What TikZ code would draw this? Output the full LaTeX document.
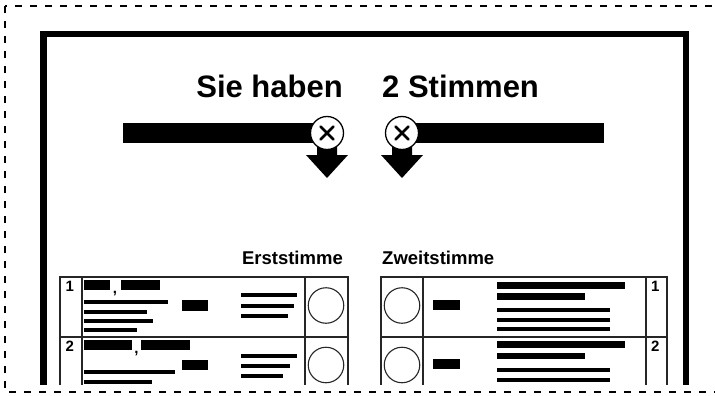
\documentclass[tikz,border=0pt]{standalone}
\usepackage{fontspec}
\setmainfont{Liberation Sans}
\tikzset{
  blk/.style={fill=black},
  tline/.style={draw=black!85, line width=1.2pt},
  xmark/.style={circle, draw=black, fill=white, line width=1.3pt, minimum size=33pt, inner sep=0pt},
  vote/.style={circle, draw=black!85, line width=1.1pt, minimum size=35.5pt, inner sep=0pt},
  title/.style={font=\bfseries\fontsize{31}{31}\selectfont, inner sep=0pt},
  head/.style={font=\bfseries\fontsize{18.5}{18.5}\selectfont, inner sep=0pt},
  num/.style={font=\bfseries\fontsize{15}{15}\selectfont, inner sep=0pt, anchor=north west},
  cross/.style={line width=2.6pt, line cap=round}
}
\begin{document}
\begin{tikzpicture}[x=1pt,y=-1pt]
\useasboundingbox (0,0) rectangle (715,396);
\clip (0,0) rectangle (715,396);
% dashed outer border
\draw[line width=1.5pt, dash pattern=on 7pt off 8pt] (5,6) rectangle (730,392);
\begin{scope}
\clip (0,0) rectangle (715,384);
% thick frame
\draw[line width=6.5pt] (43.5,34) rectangle (686,420);
% titles
\node[title, anchor=base east] (t1) at (343,97) {Sie haben};
\node[title, anchor=base west] (t2) at (382,97) {2 Stimmen};
% bars
\fill[blk] (123,123) rectangle (327,143);
\fill[blk] (402,123) rectangle (604,143);
% arrows
\fill[blk] (317,133) -- (337,133) -- (337,155) -- (348,155) -- (327,178) -- (306,155) -- (317,155) -- cycle;
\fill[blk] (392,133) -- (412,133) -- (412,155) -- (423,155) -- (402,178) -- (381,155) -- (392,155) -- cycle;
% marks
\node[xmark] (m1) at (327,133) {};
\node[xmark] (m2) at (402,133) {};
\draw[cross] ([shift={(-6.5,-6.5)}]m1.center) -- ([shift={(6.5,6.5)}]m1.center);
\draw[cross] ([shift={(-6.5,6.5)}]m1.center) -- ([shift={(6.5,-6.5)}]m1.center);
\draw[cross] ([shift={(-6.5,-6.5)}]m2.center) -- ([shift={(6.5,6.5)}]m2.center);
\draw[cross] ([shift={(-6.5,6.5)}]m2.center) -- ([shift={(6.5,-6.5)}]m2.center);
% headings
\node[head, anchor=base east] (h1) at (343,264) {Erststimme};
\node[head, anchor=base west] (h2) at (382,264) {Zweitstimme};
% left table
\draw[tline] (60,420) -- (60,277) -- (348,277) -- (348,420);
\draw[tline] (60,337) -- (348,337);
\draw[tline] (82,277) -- (82,420);
\draw[tline] (305,277) -- (305,420);
% right table
\draw[tline] (381,420) -- (381,277) -- (667,277) -- (667,420);
\draw[tline] (381,337) -- (667,337);
\draw[tline] (423,277) -- (423,420);
\draw[tline] (646,277) -- (646,420);
% vote circles
\node[vote] (v1) at (326,305.5) {};
\node[vote] (v2) at (326,365) {};
\node[vote] (v3) at (402,305.5) {};
\node[vote] (v4) at (402,365) {};
% left row 1
\node[num] (n1) at (65.5,281) {1};
\fill[blk] (84,280) rectangle (110,290);
\node[num, anchor=base] (cm1) at (115,293) {,};
\fill[blk] (121,280) rectangle (160,290);
\fill[blk] (84,300) rectangle (168,304);
\fill[blk] (182,300) rectangle (208,311);
\fill[blk] (84,310) rectangle (147,314);
\fill[blk] (84,319) rectangle (153,323);
\fill[blk] (84,328) rectangle (137,332);
\fill[blk] (241,293) rectangle (297,297);
\fill[blk] (241,304) rectangle (294,308);
\fill[blk] (241,314) rectangle (288,318);
% left row 2
\node[num] (n2) at (65.5,340.5) {2};
\fill[blk] (84,339.5) rectangle (132,350);
\node[num, anchor=base] (cm2) at (136.5,353) {,};
\fill[blk] (141,339.5) rectangle (190,350);
\fill[blk] (182,359.5) rectangle (208,370);
\fill[blk] (84,369.5) rectangle (175,373.5);
\fill[blk] (84,379.5) rectangle (152,383.5);
\fill[blk] (241,353.5) rectangle (297,357.5);
\fill[blk] (241,364) rectangle (290,368);
\fill[blk] (241,374) rectangle (283,378);
% right row 1
\node[num] (n3) at (651,281) {1};
\fill[blk] (433,300) rectangle (460,310);
\fill[blk] (497,282) rectangle (625,288.5);
\fill[blk] (497,293) rectangle (585,299.5);
\fill[blk] (497,308) rectangle (610,312);
\fill[blk] (497,318) rectangle (610,322);
\fill[blk] (497,327) rectangle (610,331);
% right row 2
\node[num] (n4) at (651,341) {2};
\fill[blk] (433,359) rectangle (460,369);
\fill[blk] (497,341) rectangle (625,347.5);
\fill[blk] (497,352.5) rectangle (585,359);
\fill[blk] (497,367.5) rectangle (610,371.5);
\fill[blk] (497,377.5) rectangle (610,381.5);
\end{scope}
\end{tikzpicture}
\end{document}
